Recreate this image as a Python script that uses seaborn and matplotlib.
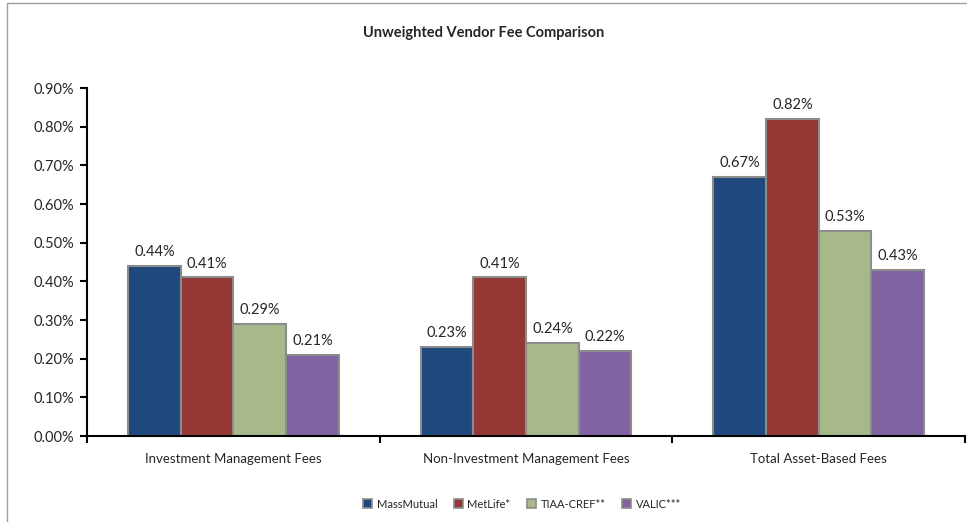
import pandas as pd
import matplotlib.pyplot as plt
import matplotlib.patches as mpatches
import seaborn as sns
import numpy as np

# Fee data, in percent
categories = ['Investment Management Fees', 'Non-Investment Management Fees', 'Total Asset-Based Fees']
vendors = ['MassMutual', 'MetLife*', 'TIAA-CREF**', 'VALIC***']
massmutual = [0.44, 0.23, 0.67]
metlife = [0.41, 0.41, 0.82]
tiaa_cref = [0.29, 0.24, 0.53]
valic = [0.21, 0.22, 0.43]
yticks = [0.0, 0.1, 0.2, 0.3, 0.4, 0.5, 0.6, 0.7, 0.8, 0.9]

colors = ['#1F497D', '#953735', '#A7B98A', '#8064A2']

df = pd.DataFrame({
    'Category': categories * 4,
    'Vendor': np.repeat(vendors, 3),
    'Fee': massmutual + metlife + tiaa_cref + valic,
})

sns.set_style('white')
plt.rcParams['font.family'] = ['Lato', 'DejaVu Sans']

fig = plt.figure(figsize=(9.67, 5.22), dpi=100)
ax = fig.add_axes([87 / 967, 1 - 436 / 522, (965 - 87) / 967, (436 - 88) / 522])

sns.barplot(data=df, x='Category', y='Fee', hue='Vendor', order=categories, hue_order=vendors,
            palette=colors, width=0.72, gap=0, edgecolor='#8C8C8C', linewidth=1.5,
            saturation=1, ax=ax, legend=True)

for cont in ax.containers:
    ax.bar_label(cont, labels=[f"{b.get_height():.2f}%" for b in cont], padding=5, fontsize=10.5)

ax.set_ylim(0, 0.9)
ax.set_yticks(yticks)
ax.set_yticklabels([f"{v:.2f}%" for v in yticks], fontsize=10.5)
ax.set_xlim(-0.5, 2.5)
ax.set_xticks(range(3))
ax.set_xticklabels(categories, fontsize=9.5)
ax.set_xticks([-0.5, 0.5, 1.5, 2.5], minor=True)
ax.tick_params(axis='x', which='major', length=0, pad=12)
ax.tick_params(axis='x', which='minor', direction='out', length=5, width=1.5, color='black', bottom=True)
ax.tick_params(axis='y', direction='out', length=5, width=1.5, color='black', left=True, pad=4)
ax.set_xlabel('')
ax.set_ylabel('')

for s in ['top', 'right']:
    ax.spines[s].set_visible(False)
for s in ['left', 'bottom']:
    ax.spines[s].set_color('black')
    ax.spines[s].set_linewidth(1.5)

ax.legend_.remove()
handles = [mpatches.Patch(facecolor=c, edgecolor='#8C8C8C', linewidth=1.2) for c in colors]
fig.legend(handles, vendors, loc='center', bbox_to_anchor=(522 / 967, 1 - 504 / 522), ncol=4,
           frameon=False, fontsize=8, handlelength=0.8, handleheight=0.8,
           handletextpad=0.4, columnspacing=1.5)

fig.text(0.5, 1 - 33 / 522, 'Unweighted Vendor Fee Comparison', ha='center', va='center',
         fontsize=10.5, fontweight='bold')

# chart frame
fig.patches.append(mpatches.Rectangle((7 / 967, -0.1), 1.2, 1 - 3 / 522 + 0.1,
                                      transform=fig.transFigure, fill=False,
                                      edgecolor='#A0A0A0', linewidth=1))

plt.savefig('out.png', dpi=100)
